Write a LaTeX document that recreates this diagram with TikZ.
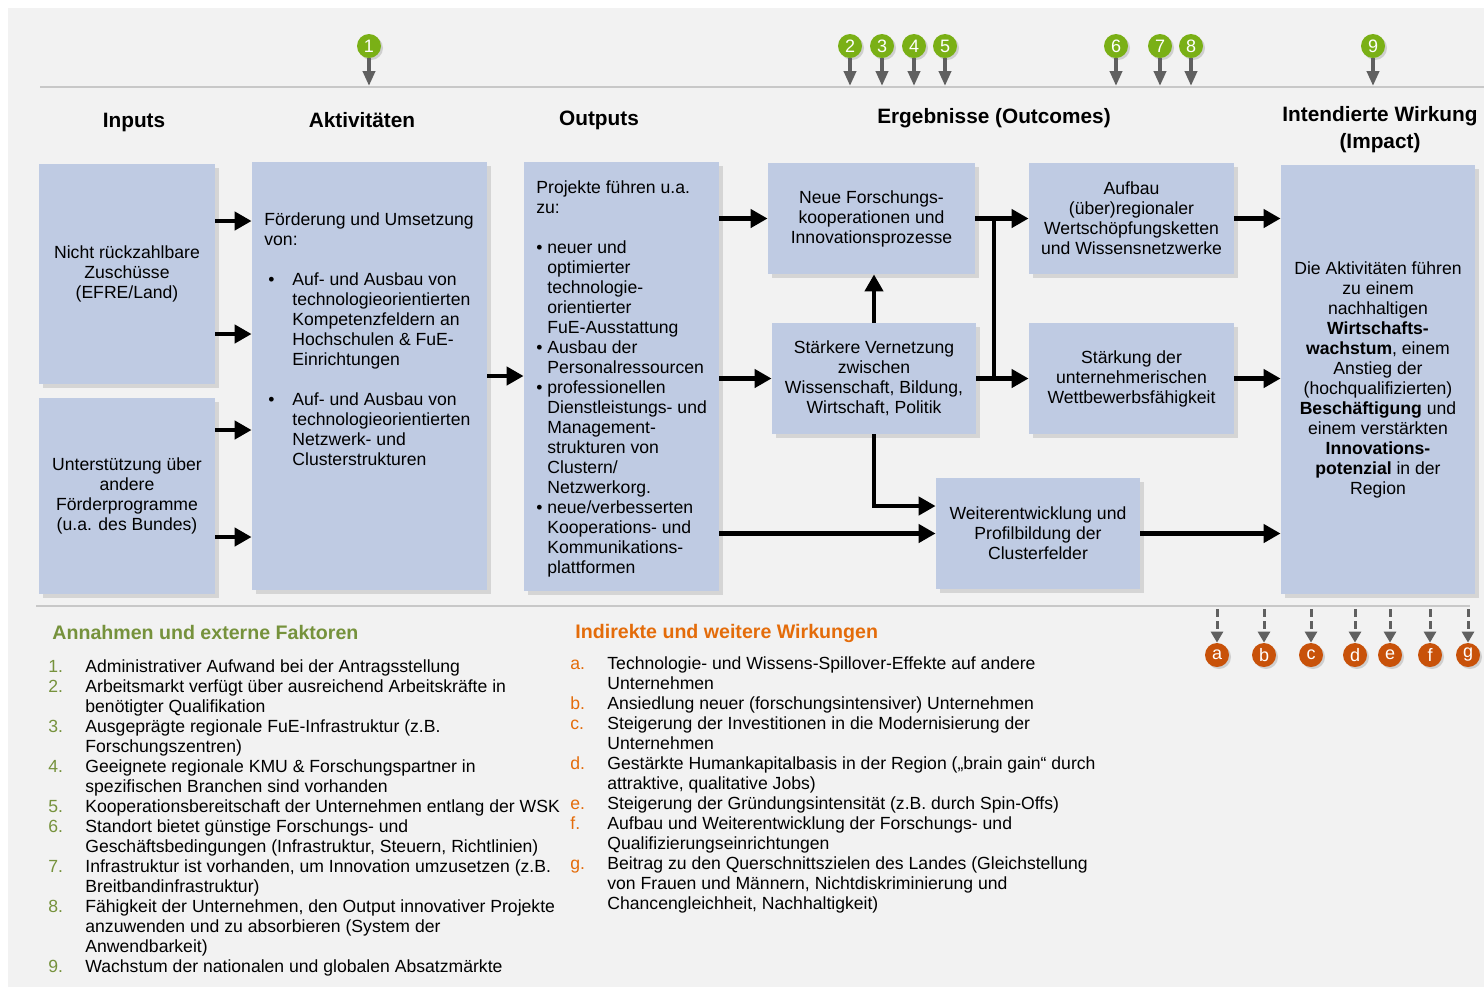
\documentclass[tikz,border=0pt]{standalone}
\usepackage{fontspec}
\setmainfont{Liberation Sans}
\usepackage{array}
\usepackage{tikz}
\usetikzlibrary{arrows.meta,shadows,calc}

\definecolor{bggray}{RGB}{242,242,242}
\definecolor{boxblue}{RGB}{191,203,227}
\definecolor{pingray}{RGB}{96,96,96}
\definecolor{rulegray}{RGB}{200,200,200}
\definecolor{numgreen}{RGB}{122,176,22}
\definecolor{hdgreen}{RGB}{118,146,60}
\definecolor{hdorange}{RGB}{228,108,10}
\definecolor{letorange}{RGB}{200,82,10}

\newcommand{\bodyfont}{\fontsize{8.8}{10}\selectfont}
\newcommand{\headfont}{\fontsize{10.4}{13.5}\selectfont\bfseries}
\newcommand{\akbul}{\makebox[14pt][l]{\hspace{2pt}\textbullet}}
\newcommand{\akind}{\hspace*{14pt}}
\newcommand{\oubul}{\makebox[5.5pt][l]{\textbullet}}
\newcommand{\ouind}{\hspace*{5.5pt}}

\tikzset{
  box/.style  ={rectangle, fill=boxblue, align=center, inner sep=0pt, font=\bodyfont,
                drop shadow={shadow xshift=2pt, shadow yshift=-2pt, opacity=.25}},
  txt/.style  ={anchor=base west, inner sep=0pt, font=\bodyfont},
  head/.style ={font=\headfont, anchor=base, inner sep=0pt},
  arr/.style  ={-{Triangle[length=8.5pt,width=9pt]}, line width=2.4pt},
  pnum/.style ={circle, fill=numgreen, text=white, minimum size=12pt, inner sep=0pt,
                font=\fontsize{9}{10}\selectfont,
                drop shadow={shadow xshift=1pt, shadow yshift=-1pt, opacity=.3}},
  plet/.style ={pnum, fill=letorange},
  pin/.style  ={-{Triangle[length=7.5pt,width=6pt]}, line width=2pt, draw=pingray},
  dpin/.style ={-{Triangle[length=5.5pt,width=6pt]}, line width=1.5pt, draw=pingray,
                dash pattern=on 4pt off 2pt},
  rule/.style ={draw=rulegray, line width=1pt},
}

\begin{document}
\begin{tikzpicture}[x=0.5pt, y=-0.5pt]
  \useasboundingbox (0,0) rectangle (1484,987);
  \fill[bggray] (8,8) rectangle (1484,987);

  % rules
  \draw[rule] (40,87) -- (1484,87);
  \draw[rule] (36,606) -- (1470,606);

  % column heads
  \node[head] (hin)  at (134,127) {Inputs};
  \node[head] (hakt) at (362,127) {Aktivitäten};
  \node[head] (hout) at (599,125) {Outputs};
  \node[head] (herg) at (994,123) {Ergebnisse (Outcomes)};
  \node[head] (himp) at (1380,121) {\begin{tabular}[t]{@{}c@{}}Intendierte Wirkung\\(Impact)\end{tabular}};

  % assumptions 1-9
  \foreach \k/\px in {1/369,2/850,3/882,4/914,5/945,6/1116,7/1160,8/1191,9/1373}{
    \node[pnum] (n\k) at (\px,46) {\k};
    \coordinate (t\k) at (\px,86);
    \draw[pin] (n\k) -- (t\k);
  }

  % boxes
  \node[box, minimum width=88pt, minimum height=110pt] (in1) at (127,274)
       {Nicht rückzahlbare\\Zuschüsse\\(EFRE/Land)};
  \node[box, minimum width=88pt, minimum height=98pt] (in2) at (127,496)
       {Unterstützung über\\andere\\Förderprogramme\\(u.a. des Bundes)};
  \node[box, minimum width=117.5pt, minimum height=214pt] (akt) at (369.5,376) {};
  \node[box, minimum width=97.5pt, minimum height=214.5pt] (out) at (621.5,376.5) {};
  \node[box, minimum width=103.5pt, minimum height=55.5pt] (neu) at (871.5,218.5)
       {Neue Forschungs-\\kooperationen und\\Innovationsprozesse};
  \node[box, minimum width=102pt, minimum height=55.5pt] (ver) at (874,378.5)
       {Stärkere Vernetzung\\zwischen\\Wissenschaft, Bildung,\\Wirtschaft, Politik};
  \node[box, minimum width=102pt, minimum height=55.5pt] (wei) at (1038,533.5)
       {Weiterentwicklung und\\Profilbildung der\\Clusterfelder};
  \node[box, minimum width=102.5pt, minimum height=55.5pt] (auf) at (1131.5,218.5)
       {Aufbau\\(über)regionaler\\Wertschöpfungsketten\\und Wissensnetzwerke};
  \node[box, minimum width=102.5pt, minimum height=55.5pt] (sta) at (1131.5,378.5)
       {Stärkung der\\unternehmerischen\\Wettbewerbsfähigkeit};
  \node[box, minimum width=97pt, minimum height=214.5pt] (imp) at (1378,379.5)
       {Die Aktivitäten führen\\zu einem\\nachhaltigen\\\textbf{Wirtschafts-}\\
        \textbf{wachstum}, einem\\Anstieg der\\(hochqualifizierten)\\
        \textbf{Beschäftigung} und\\einem verstärkten\\\textbf{Innovations-}\\
        \textbf{potenzial} in der\\Region};

  \node[txt] (akttxt) at (264,225) {\begin{tabular}[t]{@{}l@{}}
    Förderung und Umsetzung\\
    von:\\
    \\
    \akbul Auf- und Ausbau von\\
    \akind technologieorientierten\\
    \akind Kompetenzfeldern an\\
    \akind Hochschulen \& FuE-\\
    \akind Einrichtungen\\
    \\
    \akbul Auf- und Ausbau von\\
    \akind technologieorientierten\\
    \akind Netzwerk- und\\
    \akind Clusterstrukturen
  \end{tabular}};

  \node[txt] (outtxt) at (536,193) {\begin{tabular}[t]{@{}l@{}}
    Projekte führen u.a.\\
    zu:\\
    \\
    \oubul neuer und\\
    \ouind optimierter\\
    \ouind technologie-\\
    \ouind orientierter\\
    \ouind FuE-Ausstattung\\
    \oubul Ausbau der\\
    \ouind Personalressourcen\\
    \oubul professionellen\\
    \ouind Dienstleistungs- und\\
    \ouind Management-\\
    \ouind strukturen von\\
    \ouind Clustern/\\
    \ouind Netzwerkorg.\\
    \oubul neue/verbesserten\\
    \ouind Kooperations- und\\
    \ouind Kommunikations-\\
    \ouind plattformen
  \end{tabular}};

  % connectors
  \draw[arr] ([yshift=26.5pt]in1.east) -- ([yshift=26.5pt]in1.east -| akt.west);
  \draw[arr] ([yshift=-30pt]in1.east) -- ([yshift=-30pt]in1.east -| akt.west);
  \draw[arr] ([yshift=33pt]in2.east) -- ([yshift=33pt]in2.east -| akt.west);
  \draw[arr] ([yshift=-20.5pt]in2.east) -- ([yshift=-20.5pt]in2.east -| akt.west);
  \draw[arr] (akt.east) -- (akt.east -| out.west);
  \draw[arr] (neu.west -| out.east) -- (neu.west);
  \draw[arr] (ver.west -| out.east) -- (ver.west);
  \draw[arr] (wei.west -| out.east) -- (wei.west);
  \draw[arr] (ver.north) -- (ver.north |- neu.south);
  \draw[arr] (ver.south) |- ([yshift=13.75pt]wei.west);
  \draw[arr] (neu.east) -- (auf.west);
  \draw[arr] (ver.east) -- (sta.west);
  \coordinate (split) at (994,300);
  \draw[line width=2.4pt, line cap=rect] (split |- auf.west) -- (split |- sta.west);
  \draw[arr] (auf.east) -- (auf.east -| imp.west);
  \draw[arr] (sta.east) -- (sta.east -| imp.west);
  \draw[arr] (wei.east) -- (wei.east -| imp.west);

  % indirect effects a-g
  \foreach \k/\px in {a/1217,b/1264,c/1311,d/1355,e/1390,f/1430,g/1468}{
    \coordinate (s\k) at (\px,609);
    \node[plet] (l\k) at (\px,655) {\k};
    \draw[dpin] (s\k) -- (l\k);
  }

  % lists
  \node[anchor=base west, inner sep=0pt, text=hdgreen, font=\fontsize{9.8}{12}\selectfont\bfseries]
       (annhead) at (52,639) {Annahmen und externe Faktoren};
  \node[anchor=base west, inner sep=0pt, text=hdorange, font=\fontsize{9.8}{12}\selectfont\bfseries]
       (indhead) at (575,638) {Indirekte und weitere Wirkungen};

  \node[txt] (annlist) at (48,672) {\begin{tabular}[t]{@{}>{\color{hdgreen}}w{l}{18.5pt}@{}l@{}}
    1. & Administrativer Aufwand bei der Antragsstellung\\
    2. & Arbeitsmarkt verfügt über ausreichend Arbeitskräfte in\\
       & benötigter Qualifikation\\
    3. & Ausgeprägte regionale FuE-Infrastruktur (z.B.\\
       & Forschungszentren)\\
    4. & Geeignete regionale KMU \& Forschungspartner in\\
       & spezifischen Branchen sind vorhanden\\
    5. & Kooperationsbereitschaft der Unternehmen entlang der WSK\\
    6. & Standort bietet günstige Forschungs- und\\
       & Geschäftsbedingungen (Infrastruktur, Steuern, Richtlinien)\\
    7. & Infrastruktur ist vorhanden, um Innovation umzusetzen (z.B.\\
       & Breitbandinfrastruktur)\\
    8. & Fähigkeit der Unternehmen, den Output innovativer Projekte\\
       & anzuwenden und zu absorbieren (System der\\
       & Anwendbarkeit)\\
    9. & Wachstum der nationalen und globalen Absatzmärkte
  \end{tabular}};

  \node[txt] (indlist) at (570,669) {\begin{tabular}[t]{@{}>{\color{hdorange}}w{l}{18.5pt}@{}l@{}}
    a. & Technologie- und Wissens-Spillover-Effekte auf andere\\
       & Unternehmen\\
    b. & Ansiedlung neuer (forschungsintensiver) Unternehmen\\
    c. & Steigerung der Investitionen in die Modernisierung der\\
       & Unternehmen\\
    d. & Gestärkte Humankapitalbasis in der Region („brain gain“ durch\\
       & attraktive, qualitative Jobs)\\
    e. & Steigerung der Gründungsintensität (z.B. durch Spin-Offs)\\
    f. & Aufbau und Weiterentwicklung der Forschungs- und\\
       & Qualifizierungseinrichtungen\\
    g. & Beitrag zu den Querschnittszielen des Landes (Gleichstellung\\
       & von Frauen und Männern, Nichtdiskriminierung und\\
       & Chancengleichheit, Nachhaltigkeit)
  \end{tabular}};
\end{tikzpicture}
\end{document}
